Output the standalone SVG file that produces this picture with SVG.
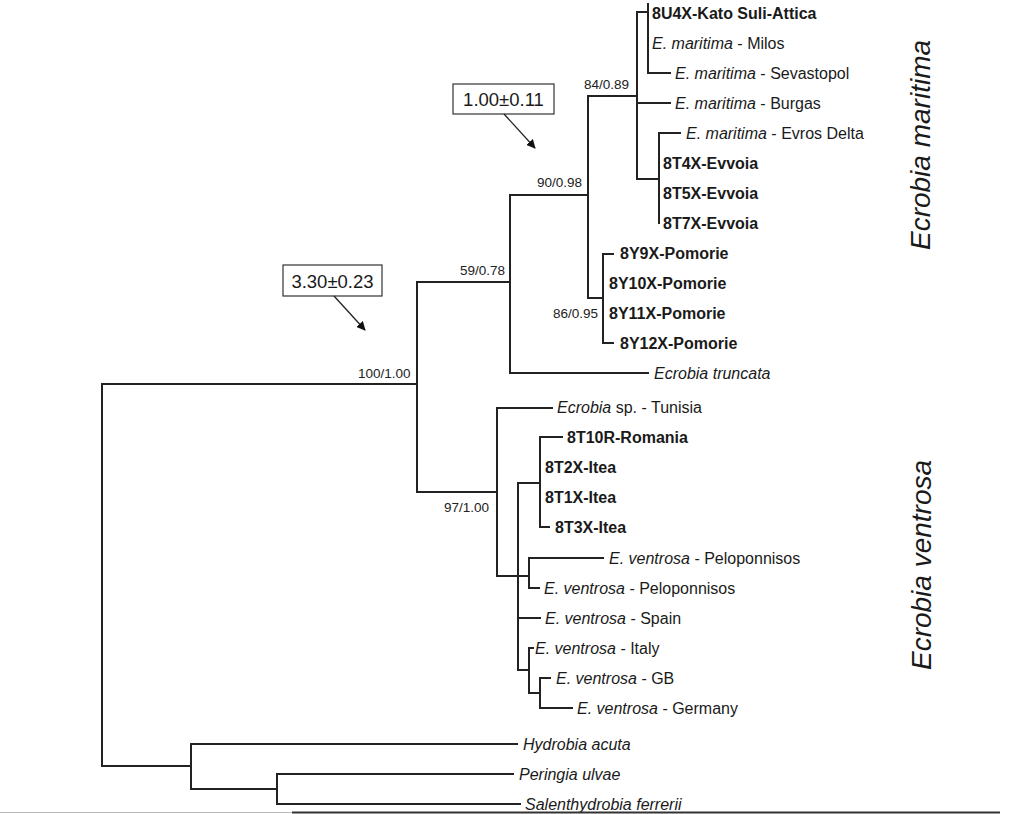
<svg xmlns="http://www.w3.org/2000/svg" width="1024" height="814" viewBox="0 0 1024 814">
<style>
.br{stroke:#222;stroke-width:2;fill:none;stroke-linecap:square}
.t{font-family:"Liberation Sans",Arial,sans-serif;font-size:16px;fill:#1a1a1a}
.b{font-weight:bold}
.i{font-style:italic}
.s{font-family:"Liberation Sans",Arial,sans-serif;font-size:13.5px;fill:#222}
.box{fill:#fff;stroke:#333;stroke-width:1.2}
.bt{font-family:"Liberation Sans",Arial,sans-serif;font-size:18.5px;fill:#1a1a1a}
.cl{font-family:"Liberation Sans",Arial,sans-serif;font-size:28px;font-style:italic;fill:#1a1a1a}
.ar{stroke:#222;stroke-width:1.3;fill:none}
</style>
<defs>
<marker id="ah" viewBox="0 0 10 10" refX="9" refY="5" markerWidth="9" markerHeight="9" markerUnits="userSpaceOnUse" orient="auto">
<path d="M0,0 L10,5 L0,10 z" fill="#111"/>
</marker>
</defs>
<rect width="1024" height="814" fill="#fff"/>
<g id="connectors">
<!-- root -->
<path class="br" d="M102,384 H417 M102,384 V766 M102,766 H191"/>
<!-- maritima clade -->
<path class="br" d="M417,282 V492 M417,282 H510 M510,195 V373 M510,373 H648 M510,195 H588"/>
<path class="br" d="M588,96 V298 M588,96 H637 M588,298 H603"/>
<path class="br" d="M637,12 V179 M637,12 H648 M637,103 H670 M637,179 H659"/>
<path class="br" d="M648,4 V73 M648,73 H670"/>
<path class="br" d="M659,133 V223 M659,133 H680"/>
<path class="br" d="M603,254 V343 M603,254 H613 M603,343 H613"/>
<!-- ventrosa clade -->
<path class="br" d="M417,492 H497 M497,408 V576 M497,408 H552 M497,576 H529"/>
<path class="br" d="M518,483 V670 M518,483 H540 M518,618 H540 M518,670 H529"/>
<path class="br" d="M540,437 V527 M540,437 H562 M540,527 H549"/>
<path class="br" d="M529,558 V588 M529,558 H603 M529,588 H539"/>
<path class="br" d="M529,648 V693 M529,648 H533 M529,693 H540"/>
<path class="br" d="M540,678 V708 M540,678 H550 M540,708 H572"/>
<!-- outgroups -->
<path class="br" d="M191,744 V789 M191,744 H517 M191,789 H277 M277,774 V804 M277,774 H513 M277,804 H520"/>
</g>
<g id="support">
<text class="s" x="584" y="89">84/0.89</text>
<text class="s" x="537" y="187">90/0.98</text>
<text class="s" x="553" y="318">86/0.95</text>
<text class="s" x="460" y="275">59/0.78</text>
<text class="s" x="358" y="378">100/1.00</text>
<text class="s" x="444" y="512">97/1.00</text>
</g>
<g id="tip-8U4X"><text class="t b" x="652" y="19">8U4X-Kato Suli-Attica</text></g>
<g id="tip-milos"><text class="t" x="652" y="49"><tspan class="i">E. maritima</tspan> - Milos</text></g>
<g id="tip-sevastopol"><text class="t" x="675" y="79"><tspan class="i">E. maritima</tspan> - Sevastopol</text></g>
<g id="tip-burgas"><text class="t" x="675" y="109"><tspan class="i">E. maritima</tspan> - Burgas</text></g>
<g id="tip-evros"><text class="t" x="686" y="139"><tspan class="i">E. maritima</tspan> - Evros Delta</text></g>
<g id="tip-8T4X"><text class="t b" x="663" y="169">8T4X-Evvoia</text></g>
<g id="tip-8T5X"><text class="t b" x="663" y="199">8T5X-Evvoia</text></g>
<g id="tip-8T7X"><text class="t b" x="663" y="229">8T7X-Evvoia</text></g>
<g id="tip-8Y9X"><text class="t b" x="620" y="259">8Y9X-Pomorie</text></g>
<g id="tip-8Y10X"><text class="t b" x="609" y="289">8Y10X-Pomorie</text></g>
<g id="tip-8Y11X"><text class="t b" x="609" y="319">8Y11X-Pomorie</text></g>
<g id="tip-8Y12X"><text class="t b" x="620" y="349">8Y12X-Pomorie</text></g>
<g id="tip-truncata"><text class="t i" x="654" y="379">Ecrobia truncata</text></g>
<g id="tip-tunisia"><text class="t" x="557" y="413"><tspan class="i">Ecrobia</tspan> sp. - Tunisia</text></g>
<g id="tip-8T10R"><text class="t b" x="567" y="443">8T10R-Romania</text></g>
<g id="tip-8T2X"><text class="t b" x="545" y="473">8T2X-Itea</text></g>
<g id="tip-8T1X"><text class="t b" x="545" y="503">8T1X-Itea</text></g>
<g id="tip-8T3X"><text class="t b" x="555" y="533">8T3X-Itea</text></g>
<g id="tip-pelop1"><text class="t" x="609" y="564"><tspan class="i">E. ventrosa</tspan> - Peloponnisos</text></g>
<g id="tip-pelop2"><text class="t" x="544" y="594"><tspan class="i">E. ventrosa</tspan> - Peloponnisos</text></g>
<g id="tip-spain"><text class="t" x="545" y="624"><tspan class="i">E. ventrosa</tspan> - Spain</text></g>
<g id="tip-italy"><text class="t" x="535" y="654"><tspan class="i">E. ventrosa</tspan> - Italy</text></g>
<g id="tip-gb"><text class="t" x="556" y="684"><tspan class="i">E. ventrosa</tspan> - GB</text></g>
<g id="tip-germany"><text class="t" x="577" y="714"><tspan class="i">E. ventrosa</tspan> - Germany</text></g>
<g id="tip-hydrobia"><text class="t i" x="523" y="750">Hydrobia acuta</text></g>
<g id="tip-peringia"><text class="t i" x="519" y="780">Peringia ulvae</text></g>
<g id="tip-salenthydrobia"><text class="t i" x="525" y="810">Salenthydrobia ferrerii</text></g>
<g id="age-1">
<rect class="box" x="453" y="84" width="101" height="30"/>
<text class="bt" x="503.5" y="106" text-anchor="middle">1.00±0.11</text>
<line class="ar" x1="504" y1="114" x2="535" y2="148" marker-end="url(#ah)"/>
</g>
<g id="age-2">
<rect class="box" x="283" y="265" width="99" height="31"/>
<text class="bt" x="332.5" y="287.5" text-anchor="middle">3.30±0.23</text>
<line class="ar" x1="334" y1="296" x2="365" y2="330" marker-end="url(#ah)"/>
</g>
<g id="clade-maritima"><text class="cl" transform="translate(930,145) rotate(-90)" text-anchor="middle">Ecrobia maritima</text></g>
<g id="clade-ventrosa"><text class="cl" transform="translate(931,565) rotate(-90)" text-anchor="middle">Ecrobia ventrosa</text></g>
<line x1="0" y1="812.5" x2="292" y2="812.5" stroke="#bbb" stroke-width="1"/>
<line x1="292" y1="812.5" x2="1000" y2="812.5" stroke="#333" stroke-width="2"/>
</svg>
